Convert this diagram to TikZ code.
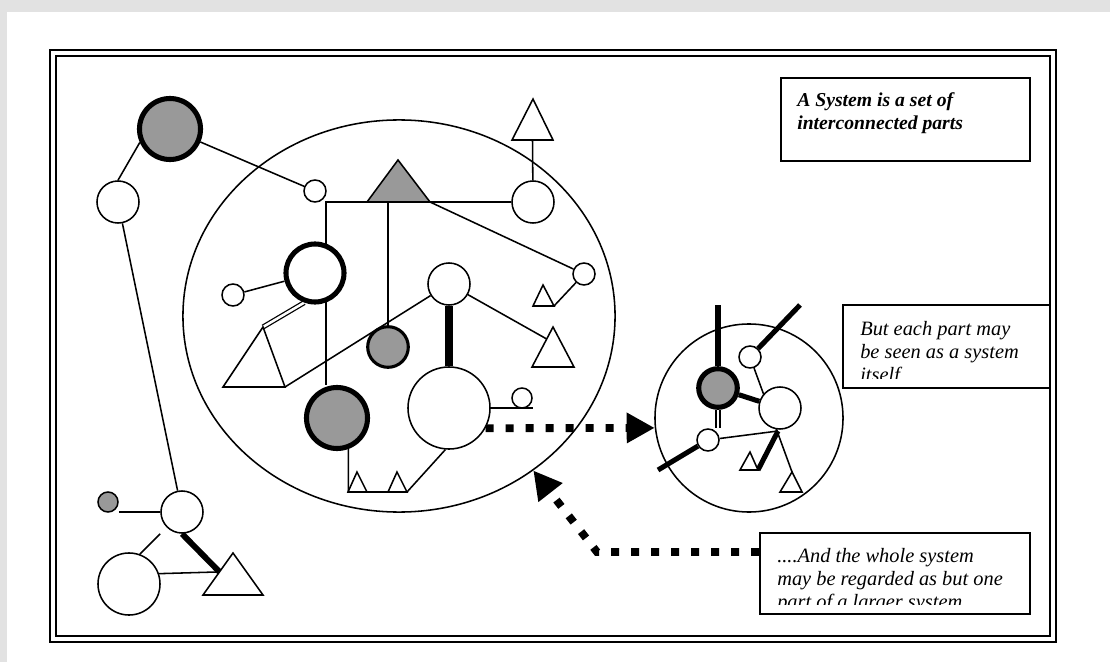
\documentclass[tikz,border=0pt]{standalone}
\usepackage{fontspec}
\setmainfont{Liberation Serif}
\usetikzlibrary{shapes.geometric,arrows.meta,calc}
\definecolor{partgrey}{HTML}{999999}
\definecolor{pagegrey}{HTML}{E2E2E2}
\pgfdeclarelayer{back}
\pgfdeclarelayer{lines}
\pgfsetlayers{back,lines,main}
\tikzset{
  part/.style={circle, draw, fill=white, inner sep=0pt, line width=1.1pt, minimum size=#1*0.05cm},
  boldpart/.style={part=#1, line width=3.6pt},
  tri/.style={draw, line width=1.1pt, fill=white},
  link/.style={line width=1.1pt},
  bar/.style={line width=4pt},
  twin/.style={double, line width=0.9pt, double distance=1.8pt},
  flow/.style={line width=5.6pt, dash pattern=on 0.2cm off 0.3cm, -{Triangle[length=0.7cm,width=0.72cm]}},
  note/.style={anchor=north west, align=left, inner sep=0pt, font=\fontsize{14.5}{16.5}\selectfont\itshape},
  notebox/.style={draw, line width=1.1pt, inner sep=0pt}
}
\begin{document}
\begin{tikzpicture}[x=0.025cm, y=-0.025cm]
    % Page and frame
    \begin{pgfonlayer}{back}
    \fill[pagegrey] (0,0) rectangle (1110,662);
    \fill[white] (7,12) rectangle (1110,662);
    \draw[line width=1.7pt] (50,50) rectangle (1056,642);
    \draw[line width=0.9pt] (56,56) rectangle (1050,636);
    \end{pgfonlayer}
    % The whole system
    \node[ellipse, draw, line width=1.1pt, minimum width=10.8cm, minimum height=9.8cm, inner sep=0pt] (whole) at (399,316) {};
    % Parts outside
    \node[boldpart=30.5, fill=partgrey] (hub) at (170,129) {};
    \node[part=21] (outerW) at (118,202) {};
    \node[part=11] (dotA) at (315,191) {};
    \node[part=21] (lowW) at (182,512) {};
    \node[part=10, fill=partgrey] (tinyG) at (108,502) {};
    \node[part=31] (bigL) at (129,584) {};
    \draw[tri] (233,553) coordinate (ltA) -- (203,595) coordinate (ltL) -- (263,595) coordinate (ltR) -- cycle;
    \draw[tri] (533,99) coordinate (wtA) -- (512,140) coordinate (wtL) -- (553,140) coordinate (wtR) -- cycle;
    % Parts inside
    \draw[tri, fill=partgrey] (398,160) coordinate (gtA) -- (367,202) coordinate (gtL) -- (430,202) coordinate (gtR) -- cycle;
    \node[part=21] (wTop) at (533,202) {};
    \node[boldpart=29] (ring) at (315,273) {};
    \node[part=11] (dotB) at (233,295) {};
    \node[part=11] (dotC) at (584,274) {};
    \draw[tri] (543,285) coordinate (stA) -- (533,306) coordinate (stL) -- (554,306) coordinate (stR) -- cycle;
    \node[part=20.3, line width=2.2pt, fill=partgrey] (midG) at (388,347) {};
    \node[part=21] (wMid) at (449,284) {};
    \node[part=41] (bigW) at (449,408) {};
    \draw[tri] (553,327) coordinate (rtA) -- (532,367) coordinate (rtL) -- (574,367) coordinate (rtR) -- cycle;
    \draw[tri] (263,327) coordinate (ptA) -- (223,387) coordinate (ptL) -- (285,387) coordinate (ptR) -- cycle;
    \node[boldpart=30.5, fill=partgrey] (lowG) at (337,418) {};
    \draw[tri] (357,472) coordinate (t1A) -- (348,492) coordinate (t1L) -- (367,492) coordinate (t1R) -- cycle;
    \draw[tri] (397,472) coordinate (t2A) -- (388,492) coordinate (t2L) -- (407,492) coordinate (t2R) -- cycle;
    \node[part=10] (dotD) at (522,398) {};
    % One part seen as a system
    \node[circle, draw, line width=1.1pt, minimum size=4.7cm, inner sep=0pt] (subsys) at (749,418) {};
    \node[boldpart=19.3, fill=partgrey] (cG) at (718,388) {};
    \node[part=11] (cA) at (750,357) {};
    \node[part=21] (cW) at (780,408) {};
    \node[part=11] (cB) at (708,440) {};
    \draw[tri] (750,452) coordinate (c1A) -- (740,470) coordinate (c1L) -- (758,470) coordinate (c1R) -- cycle;
    \draw[tri] (792,472) coordinate (c2A) -- (780,492) coordinate (c2L) -- (802,492) coordinate (c2R) -- cycle;
    \coordinate (cTop) at (718,305);
    \coordinate (cNE) at (800,305);
    \coordinate (cSW) at (658,470);
    \coordinate (knot) at (778,431);
    % Text boxes
    \node[notebox, minimum width=6.225cm, minimum height=2.075cm] (topBox) at (905.5,119.5) {};
    \node[notebox, minimum width=5.175cm, minimum height=2.075cm] (midBox) at (946.5,346.5) {};
    \node[notebox, minimum width=6.75cm, minimum height=2.025cm] (lowBox) at (895,573.5) {};
    \node[note, font=\fontsize{14}{16.5}\selectfont\bfseries\itshape] (topText) at (797,92) {A System is a set of\\interconnected parts};
    \begin{scope}
    \clip (midBox.north west) rectangle ($(midBox.south east)+(0,-10)$);
    \node[note] (midText) at (860,321) {But each part may\\be seen as a system\\itself};
    \end{scope}
    \begin{scope}
    \clip (lowBox.north west) rectangle ($(lowBox.south east)+(0,-10)$);
    \node[note] (lowText) at (777,548) {....And the whole system\\may be regarded as but one\\part of a larger system};
    \end{scope}
    \coordinate (bend) at (597,552);
    % Connections
    \begin{pgfonlayer}{lines}
    \draw[link] (hub.204) -- (outerW.north);
    \draw[link] (hub) -- (dotA);
    \draw[link] (outerW) -- (lowW);
    \draw[link] (tinyG.east |- lowW.west) -- (lowW.west);
    \draw[bar, line width=4.2pt] (lowW.south) -- ($(ltA)!0.45!(ltL)$);
    \draw[link] (bigL.19) -- ($(ltA)!0.45!(ltL)$);
    \draw[link, shorten <=6.5pt] (lowW.225) -- (bigL.70);
    \draw[link] (gtL) -- (326,202) coordinate (elbow) -- (elbow |- lowG.north);
    \draw[link] (gtR) -- (wTop);
    \draw[link] (wTop) -- ($(wtL)!0.5!(wtR)$);
    \draw[link] (gtR) -- (dotC);
    \draw[link] (dotC) -- (stR);
    \draw[link] (gtL -| midG) -- (midG);
    \draw[link] (dotB) -- (ring);
    \draw[twin] (ptA) -- (ring.250);
    \draw[link] (ptR) -- (wMid);
    \draw[bar, line width=5.7pt] (wMid) -- (bigW);
    \draw[link] (wMid) -- ($(rtA)!0.3!(rtL)$);
    \draw[link] (lowG.-70) -- (lowG.-70 |- t1L) -- (t2R) -- (bigW.265);
    \draw[link] (bigW.east) -- (dotD.east |- bigW.east);
    % inside the sub-system
    \draw[bar, line width=3.6pt] (cTop) -- (cG);
    \draw[bar, line width=3.6pt] (cNE) -- (cA);
    \draw[link] (cA) -- (c2A);
    \draw[bar, line width=3.6pt] (cG) -- (cW);
    \draw[twin] (cG.south) -- (cG.south |- cB.north);
    \draw[bar, line width=3.6pt] (cB) -- (cSW);
    \draw[link] (cB) -- (knot);
    \draw[bar, line width=3.6pt] (knot) -- (c1R);
    % Flows
    \draw[flow] (bigW.-29) -- (subsys.186);
    \draw[flow] (lowBox.west |- bend) -- (bend) -- (whole.-49);
    \end{pgfonlayer}
\end{tikzpicture}
\end{document}
